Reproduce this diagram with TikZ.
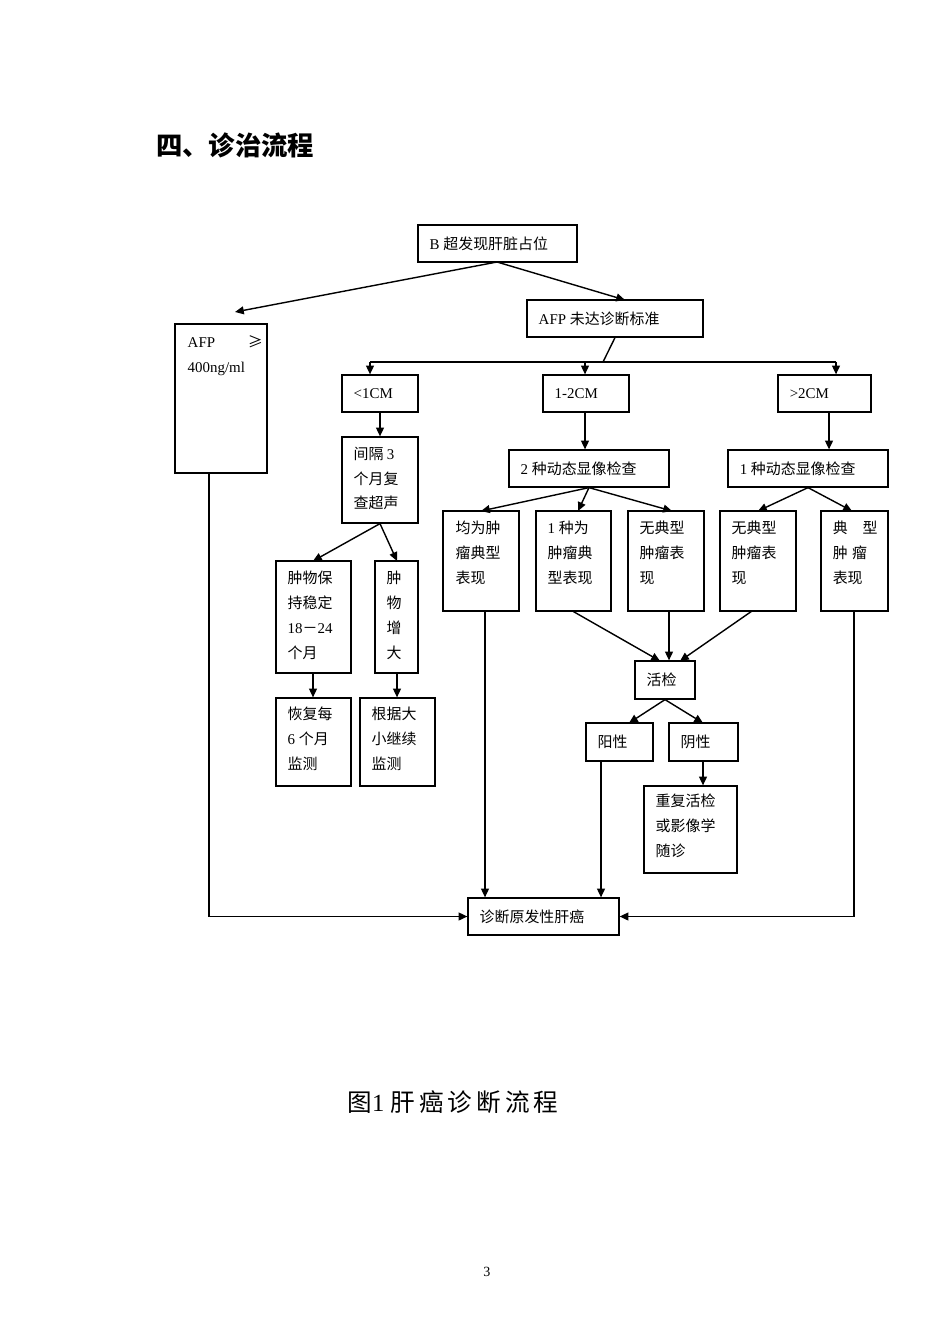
\documentclass[tikz,border=0pt]{standalone}
\usepackage{fontspec}
\setmainfont{Liberation Serif}
\newfontfamily\cjk{Noto Sans CJK SC}
\usetikzlibrary{fit,arrows.meta}
\begin{document}
\begin{tikzpicture}[x=0.02cm,y=-0.02cm,
 box/.style={draw,line width=0.7pt,inner sep=0pt},
 txt/.style={anchor=north west,align=left,inner sep=0pt,font=\fontsize{8.5}{14.2}\selectfont\cjk},
 arr/.style={-{Triangle[length=5pt,width=4.5pt]},line width=0.8pt},
 ln/.style={line width=0.8pt}]
\useasboundingbox (0,0) rectangle (950,1344);
\node[anchor=west,font=\fontsize{15}{18}\selectfont\cjk\bfseries] at (150,145) {四、诊治流程};
% boxes
\node[box,fit={(418,225)(577,262)}] (b) {};
\node[txt,anchor=west] at ([xshift=12*0.02cm]b.west) {\rmfamily B \cjk 超发现肝脏占位};
\node[box,fit={(527,300)(703,337)}] (afpn) {};
\node[txt,anchor=west] at ([xshift=12*0.02cm]afpn.west) {\rmfamily AFP \cjk 未达诊断标准};
\node[box,fit={(175,324)(267,473)}] (afp) {};
\node[txt] at ([xshift=13*0.02cm,yshift=-12*0.02cm]afp.north west) {\rmfamily AFP\hspace{2.2em}\cjk ≥\\\rmfamily 400ng/ml};
\node[box,fit={(342,375)(418,412)}] (s1) {};
\node[txt,anchor=west] at ([xshift=12*0.02cm]s1.west) {\rmfamily <1CM};
\node[box,fit={(543,375)(629,412)}] (s2) {};
\node[txt,anchor=west] at ([xshift=12*0.02cm]s2.west) {\rmfamily 1-2CM};
\node[box,fit={(778,375)(871,412)}] (s3) {};
\node[txt,anchor=west] at ([xshift=12*0.02cm]s3.west) {\rmfamily >2CM};
\node[box,fit={(342,437)(418,523)}] (jg) {};
\node[txt] at ([xshift=12*0.02cm,yshift=-10*0.02cm]jg.north west) {间隔 \rmfamily 3\\个月复\\查超声};
\node[box,fit={(509,450)(669,487)}] (d2) {};
\node[txt,anchor=west] at ([xshift=12*0.02cm]d2.west) {\rmfamily 2 \cjk 种动态显像检查};
\node[box,fit={(728,450)(888,487)}] (d1) {};
\node[txt,anchor=west] at ([xshift=12*0.02cm]d1.west) {\rmfamily 1 \cjk 种动态显像检查};
\node[box,fit={(443,511)(519,611)}] (a1) {};
\node[txt] at ([xshift=13*0.02cm,yshift=-10*0.02cm]a1.north west) {均为肿\\瘤典型\\表现};
\node[box,fit={(536,511)(611,611)}] (a2) {};
\node[txt] at ([xshift=12*0.02cm,yshift=-10*0.02cm]a2.north west) {\rmfamily 1 \cjk 种为\\肿瘤典\\型表现};
\node[box,fit={(628,511)(704,611)}] (a3) {};
\node[txt] at ([xshift=12*0.02cm,yshift=-10*0.02cm]a3.north west) {无典型\\肿瘤表\\现};
\node[box,fit={(720,511)(796,611)}] (a4) {};
\node[txt] at ([xshift=12*0.02cm,yshift=-10*0.02cm]a4.north west) {无典型\\肿瘤表\\现};
\node[box,fit={(821,511)(888,611)}] (a5) {};
\node[txt] at ([xshift=12*0.02cm,yshift=-10*0.02cm]a5.north west) {典\hspace{1em}型\\肿\hspace{0.3em}瘤\\表现};
\node[box,fit={(276,561)(351,673)}] (m1) {};
\node[txt] at ([xshift=12*0.02cm,yshift=-10*0.02cm]m1.north west) {肿物保\\持稳定\\\rmfamily 18\cjk －\rmfamily 24\\个月};
\node[box,fit={(375,561)(418,673)}] (m2) {};
\node[txt] at ([xshift=12*0.02cm,yshift=-10*0.02cm]m2.north west) {肿\\物\\增\\大};
\node[box,fit={(635,661)(695,699)}] (hj) {};
\node[txt,anchor=west] at ([xshift=12*0.02cm]hj.west) {活检};
\node[box,fit={(586,723)(653,761)}] (yx) {};
\node[txt,anchor=west] at ([xshift=12*0.02cm]yx.west) {阳性};
\node[box,fit={(669,723)(738,761)}] (yn) {};
\node[txt,anchor=west] at ([xshift=12*0.02cm]yn.west) {阴性};
\node[box,fit={(644,786)(737,873)}] (cf) {};
\node[txt] at ([xshift=12*0.02cm,yshift=-8*0.02cm]cf.north west) {重复活检\\或影像学\\随诊};
\node[box,fit={(276,698)(351,786)}] (hf) {};
\node[txt] at ([xshift=12*0.02cm,yshift=-9*0.02cm]hf.north west) {恢复每\\\rmfamily 6 \cjk 个月\\监测};
\node[box,fit={(360,698)(435,786)}] (gj) {};
\node[txt] at ([xshift=12*0.02cm,yshift=-9*0.02cm]gj.north west) {根据大\\小继续\\监测};
\node[box,fit={(468,898)(619,935)}] (zd) {};
\node[txt,anchor=west] at ([xshift=12*0.02cm]zd.west) {诊断原发性肝癌};
% connectors
\coordinate (bb) at (497,262);
\draw[arr] (bb) -- (235,312) coordinate (t1);
\draw[arr] (bb) -- (625,300);
\draw[ln] (afpn.south) -- (603,362) coordinate (hm);
\draw[ln] (370,362) -- (836,362);
\draw[arr] (370,362) -- (s1.north -| 370,0);
\draw[arr] (585,362) -- (s2.north -| 585,0);
\draw[arr] (836,362) -- (s3.north -| 836,0);
\draw[arr] (s1.south -| 380,0) -- (jg.north -| 380,0);
\draw[arr] (s2.south -| 585,0) -- (d2.north -| 585,0);
\draw[arr] (s3.south -| 829,0) -- (d1.north -| 829,0);
\draw[arr] (jg.south) -- (313,561);
\draw[arr] (jg.south) -- (397,561);
\draw[arr] (d2.south) -- (481,511);
\draw[arr] (d2.south) -- (578,511);
\draw[arr] (d2.south) -- (672,511);
\draw[arr] (d1.south) -- (758,511);
\draw[arr] (d1.south) -- (852,511);
\draw[arr] (m1.south -| 313,0) -- (hf.north -| 313,0);
\draw[arr] (m2.south -| 397,0) -- (gj.north -| 397,0);
\draw[arr] (a2.south) -- (660,661);
\draw[arr] (a3.south -| 669,0) -- (hj.north -| 669,0);
\draw[arr] (752,611) -- (680,661);
\draw[arr] (hj.south) -- (629,723);
\draw[arr] (hj.south) -- (703,723);
\draw[arr] (yn.south -| 703,0) -- (cf.north -| 703,0);
\draw[arr] (yx.south -| 601,0) -- (zd.north -| 601,0);
\draw[arr] (a1.south -| 485,0) -- (zd.north -| 485,0);
\draw[arr] (afp.south -| 209,0) |- (zd.west);
\draw[arr] (a5.south -| 854,0) |- (zd.east);
\node[font=\fontsize{14}{16}\selectfont\cjk,anchor=center] at (453,1102) {图\rmfamily 1 \cjk 肝\,癌\,诊\,断\,流\,程};
\node[font=\fontsize{8}{10}\selectfont] at (487,1272) {3};
\end{tikzpicture}
\end{document}
